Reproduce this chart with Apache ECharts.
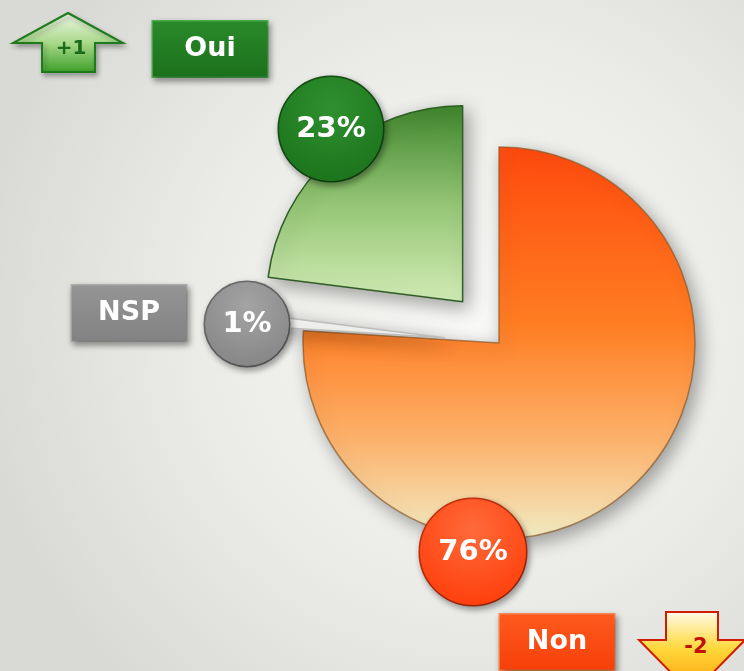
<!DOCTYPE html>
<html>
<head>
<meta charset="utf-8">
<title>Oui / NSP / Non</title>
<script src="https://cdn.jsdelivr.net/npm/echarts@6/dist/echarts.min.js"></script>
<style>
  html, body { margin: 0; padding: 0; background: #e2e3df; }
  #myChart { width: 744px; height: 671px; }
</style>
</head>
<body>
<div id="myChart"></div>
<script>
  // données
  var categories = ['Non', 'NSP', 'Oui'];
  var values = [76, 1, 23];
  var evolution = ['-2', null, '+1'];
  var exploded = [false, true, true];

  var FONT = 'DejaVu Sans';
  var CENTER = [499, 343];
  var RADIUS = 196;
  var OFFSET = 55;

  // couleurs des parts
  var sliceColors = {
    'Non': { type: 'linear', x: 0, y: 0, x2: 0, y2: 1, colorStops: [
      { offset: 0, color: '#ff4a0e' }, { offset: 0.45, color: '#ff7d22' },
      { offset: 0.75, color: '#fcb26c' }, { offset: 1, color: '#f1ecc4' }] },
    'NSP': '#f7f7f5',
    'Oui': { type: 'linear', x: 0, y: 0, x2: 0, y2: 1, colorStops: [
      { offset: 0, color: '#3f862c' }, { offset: 0.5, color: '#94c574' },
      { offset: 1, color: '#d2ecb6' }] }
  };
  var sliceBorders = { 'Non': 'rgba(140,90,40,0.7)', 'NSP': '#bdbdbb', 'Oui': '#2f5f24' };
  // pastilles (labels) : [clair, foncé, bord]
  var badgeColors = { 'Non': ['#ff6a3a', '#ff3f0c', '#c8300c'], 'NSP': ['#a4a4a4', '#868686', '#6b6b6b'], 'Oui': ['#2f902f', '#1c741c', '#135013'] };
  var badgeSize = { 'Non': 106, 'NSP': 84, 'Oui': 104 };
  var badgePos = { 'Non': [473, 552], 'NSP': [247, 324], 'Oui': [331, 129] };
  // cartouches (légendes)
  var boxColors = { 'Non': ['#ff5a1e', '#f54008', '#ff8a55'], 'NSP': ['#959595', '#828282', '#b0b0b0'], 'Oui': ['#2a8a2a', '#1b701b', '#4fae4f'] };
  var boxPos = { 'Non': [500, 613], 'NSP': [72, 284], 'Oui': [153, 20] };

  // centre de chaque part (éclatée le long de sa bissectrice)
  var total = values.reduce(function (a, b) { return a + b; }, 0);
  function sliceCenter(i) {
    if (!exploded[i]) return CENTER.slice();
    var before = 0;
    for (var k = 0; k < i; k++) before += values[k];
    var mid = (before + values[i] / 2) / total * 2 * Math.PI; // depuis midi, sens horaire
    return [CENTER[0] + Math.sin(mid) * OFFSET, CENTER[1] - Math.cos(mid) * OFFSET];
  }

  // une série par part : seule la part concernée est visible
  function buildSeries(idx) {
    var name = categories[idx];
    var data = categories.map(function (n, i) {
      if (i !== idx) {
        return {
          name: n, value: values[i],
          itemStyle: { color: 'rgba(0,0,0,0)', borderWidth: 0, shadowBlur: 0, shadowColor: 'rgba(0,0,0,0)' },
          label: { show: false }
        };
      }
      var bc = badgeColors[n];
      return {
        name: n,
        value: values[i],
        itemStyle: {
          color: sliceColors[n],
          borderColor: sliceBorders[n],
          borderWidth: 1.5,
          shadowColor: 'rgba(0,0,0,0.35)', shadowBlur: 18, shadowOffsetX: 5, shadowOffsetY: 6
        },
        label: {
          show: true,
          backgroundColor: { type: 'radial', x: 0.5, y: 0.3, r: 0.7, colorStops: [
            { offset: 0, color: bc[0] }, { offset: 1, color: bc[1] }] },
          borderColor: bc[2],
          borderWidth: 1.5,
          width: badgeSize[n],
          height: badgeSize[n],
          lineHeight: badgeSize[n],
          borderRadius: badgeSize[n] / 2
        }
      };
    });
    return {
      type: 'pie',
      name: name,
      center: sliceCenter(idx),
      radius: RADIUS,
      startAngle: 90,
      clockwise: true,
      silent: true,
      avoidLabelOverlap: false,
      emphasis: { disabled: true },
      label: {
        formatter: '{c}%',
        color: '#fff',
        fontFamily: FONT,
        fontWeight: 'bold',
        fontSize: 29,
        align: 'center',
        verticalAlign: 'middle',
        shadowColor: 'rgba(0,0,0,0.35)', shadowBlur: 6, shadowOffsetX: 2, shadowOffsetY: 3
      },
      labelLine: { show: false },
      labelLayout: function (params) {
        var p = badgePos[categories[params.dataIndex]];
        return { x: p[0], y: p[1], align: 'center', verticalAlign: 'middle' };
      },
      data: data
    };
  }

  var legends = categories.map(function (name) {
    var c = boxColors[name];
    return {
      data: [name],
      left: boxPos[name][0] - 5,
      top: boxPos[name][1],
      padding: 0,
      itemWidth: 0,
      itemHeight: 0,
      selectedMode: false,
      formatter: '{b|{name}}',
      textStyle: {
        rich: {
          b: {
            width: 114, height: 55, lineHeight: 55, align: 'center',
            color: '#fff', fontSize: 27, fontWeight: 'bold', fontFamily: FONT,
            backgroundColor: { type: 'linear', x: 0, y: 0, x2: 0, y2: 1, colorStops: [
              { offset: 0, color: c[0] }, { offset: 1, color: c[1] }] },
            borderColor: c[2], borderWidth: 1.5,
            shadowColor: 'rgba(0,0,0,0.35)', shadowBlur: 6, shadowOffsetX: 2, shadowOffsetY: 3
          }
        }
      }
    };
  });

  // flèches d'évolution
  var upArrow = {
    type: 'group',
    children: [{
      type: 'polygon',
      shape: { points: [[68, 13], [123, 43], [95, 43], [95, 72], [42, 72], [42, 43], [13, 43]] },
      style: {
        fill: { type: 'linear', x: 0, y: 0, x2: 0, y2: 1, colorStops: [
          { offset: 0, color: '#f2f8ec' }, { offset: 0.5, color: '#a9d98a' }, { offset: 1, color: '#3c9f28' }] },
        stroke: '#1d7a1d', lineWidth: 2,
        shadowColor: 'rgba(0,0,0,0.3)', shadowBlur: 5, shadowOffsetX: 2, shadowOffsetY: 3
      }
    }, {
      type: 'text',
      x: 71, y: 49,
      style: { text: evolution[2], fill: '#1a6a1a', font: 'bold 20px "' + FONT + '"', align: 'center', verticalAlign: 'middle' }
    }]
  };
  var downArrow = {
    type: 'group',
    children: [{
      type: 'polygon',
      shape: { points: [[666, 612], [718, 612], [718, 640], [745, 640], [692, 694], [639, 640], [666, 640]] },
      style: {
        fill: { type: 'linear', x: 0, y: 0, x2: 0, y2: 1, colorStops: [
          { offset: 0, color: '#fffbea' }, { offset: 0.45, color: '#ffd83a' }, { offset: 1, color: '#ff9800' }] },
        stroke: '#d01c00', lineWidth: 2
      }
    }, {
      type: 'text',
      x: 696, y: 648,
      style: { text: evolution[0], fill: '#c0100a', font: 'bold 21px "' + FONT + '"', align: 'center', verticalAlign: 'middle' }
    }]
  };

  var option = {
    animation: false,
    graphic: [{
      type: 'rect', z: -100, silent: true,
      shape: { x: 0, y: 0, width: 744, height: 671 },
      style: {
        fill: { type: 'radial', x: 0.64, y: 0.48, r: 0.75, colorStops: [
          { offset: 0, color: '#f8f8f6' }, { offset: 0.55, color: '#ebebe8' }, { offset: 1, color: '#d9dad5' }] }
      }
    }, upArrow, downArrow],
    legend: legends,
    series: categories.map(function (n, i) { return buildSeries(i); })
  };

  var myChart = echarts.init(document.getElementById('myChart'));
  myChart.setOption(option);
</script>
</body>
</html>
